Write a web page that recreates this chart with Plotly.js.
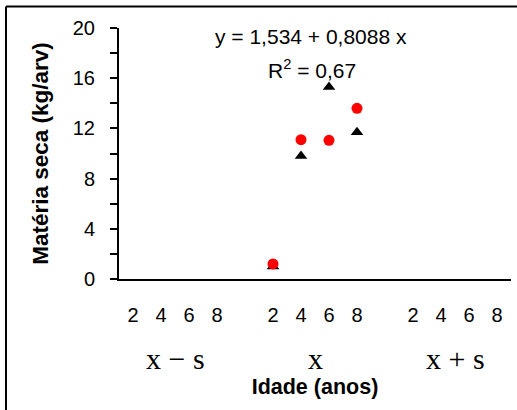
<!DOCTYPE html>
<html>
<head>
<meta charset="utf-8">
<script src="https://cdn.plot.ly/plotly-3.0.1.min.js"></script>
<style>
  html, body { margin: 0; padding: 0; background: #fff; }
  #chart { width: 517px; height: 410px; }
</style>
</head>
<body>
<div id="chart"></div>
<script>
// ---- data ----
const ageTicks = [2, 4, 6, 8];                 // tick labels inside each group
const groupLabels = ['x − s', 'x', 'x + s'];   // group labels under ticks
const dataGroup = 'x';                          // group that holds the points
const circleAges = [2, 4, 6, 8];
const circleValues = [1.2, 11.1, 11.05, 13.6];  // red circles
const triangleAges = [2, 4, 6, 8];
const triangleValues = [1.0, 9.8, 15.3, 11.7];  // black triangles
const equationText = 'y = 1,534 + 0,8088 x';
const r2Text = 'R<sup>2</sup> = 0,67';
const yTickVals = [0, 4, 8, 12, 16, 20];

// ---- positions on a shared numeric axis (gap of one slot between groups) ----
const slot = (gi, age) => gi * (ageTicks.length + 1) + ageTicks.indexOf(age);
const tickvals = [], ticktext = [];
groupLabels.forEach((g, gi) => ageTicks.forEach(a => { tickvals.push(slot(gi, a)); ticktext.push(String(a)); }));
const gIdx = groupLabels.indexOf(dataGroup);

const traces = [
  {
    type: 'scatter', mode: 'markers',
    x: triangleAges.map(a => slot(gIdx, a)), y: triangleValues,
    marker: { symbol: 'triangle-up', size: 11, color: '#000000' },
    hoverinfo: 'skip'
  },
  {
    type: 'scatter', mode: 'markers',
    x: circleAges.map(a => slot(gIdx, a)), y: circleValues,
    marker: { symbol: 'circle', size: 11, color: '#ff0000' },
    hoverinfo: 'skip'
  }
];

const nSlots = groupLabels.length * (ageTicks.length + 1) - 1;
const groupAnn = groupLabels.map((g, gi) => ({
  xref: 'x', yref: 'paper',
  x: slot(gi, ageTicks[0]) + (ageTicks.length - 1) / 2, y: -0.318,
  xanchor: 'center', yanchor: 'middle', showarrow: false,
  text: g, font: { family: 'Liberation Serif, Times New Roman, serif', size: 30, color: '#000' }
}));

const layout = {
  width: 517, height: 410,
  margin: { l: 119, r: 6, t: 28, b: 131 },
  paper_bgcolor: '#fff', plot_bgcolor: '#fff',
  showlegend: false,
  font: { family: 'Liberation Sans, Arial, sans-serif', color: '#000' },
  xaxis: {
    range: [-0.5, nSlots - 0.5],
    tickmode: 'array', tickvals: tickvals, ticktext: ticktext,
    ticks: '', showgrid: false, zeroline: false,
    showline: true, linecolor: '#000', linewidth: 2,
    tickfont: { size: 20 }, ticklabelstandoff: 17,
    title: { text: '<b>Idade (anos)</b>', font: { size: 21.5 }, standoff: 54 },
    automargin: false
  },
  yaxis: {
    range: [0, 20],
    tickmode: 'array', tickvals: yTickVals,
    ticks: 'outside', ticklen: 7, tickwidth: 2, tickcolor: '#000',
    minor: { dtick: 2, ticks: 'outside', ticklen: 7, tickwidth: 2, tickcolor: '#000', showgrid: false },
    showgrid: false, zeroline: false,
    showline: true, linecolor: '#000', linewidth: 2,
    tickfont: { size: 20 }, ticklabelstandoff: 11,
    title: { text: '<b>Matéria seca (kg/arv)</b>', font: { size: 22.5 }, standoff: 18 },
    automargin: false
  },
  annotations: [
    { xref: 'paper', yref: 'paper', x: 0.49, y: 0.966, xanchor: 'center', yanchor: 'middle',
      showarrow: false, text: equationText, font: { size: 21 } },
    { xref: 'paper', yref: 'paper', x: 0.492, y: 0.837, xanchor: 'center', yanchor: 'middle',
      showarrow: false, text: r2Text, font: { size: 21 } }
  ].concat(groupAnn),
  shapes: [
    { type: 'line', xref: 'paper', yref: 'paper', x0: -0.2883, x1: 1.02, y0: 1.0857, y1: 1.0857,
      line: { color: '#000', width: 2 } },
    { type: 'line', xref: 'paper', yref: 'paper', x0: -0.2883, x1: -0.2883, y0: 1.0857, y1: -0.53,
      line: { color: '#000', width: 2 } }
  ]
};

Plotly.newPlot('chart', traces, layout, { displayModeBar: false, staticPlot: true });
</script>
</body>
</html>
